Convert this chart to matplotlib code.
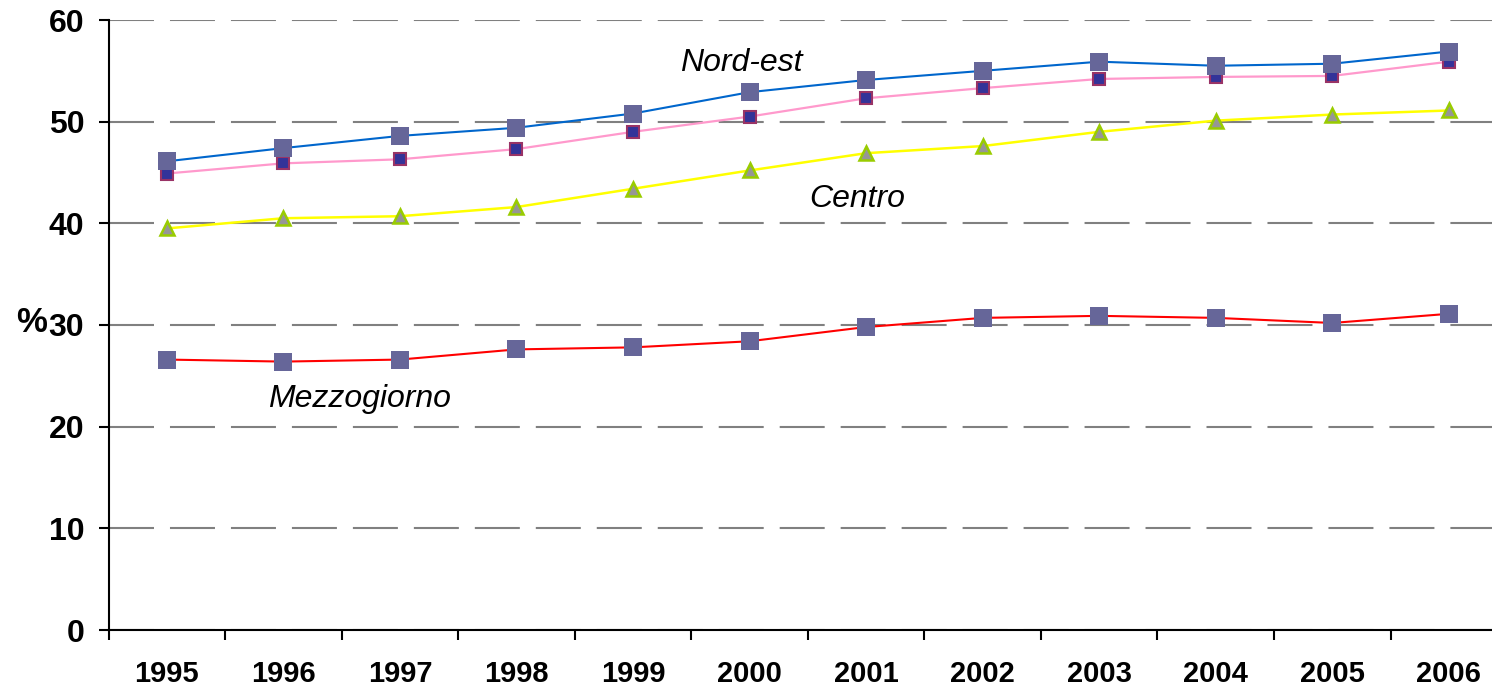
import numpy as np
import matplotlib.pyplot as plt
from matplotlib.ticker import FixedLocator

# dati (%)
anni = ['1995', '1996', '1997', '1998', '1999', '2000',
        '2001', '2002', '2003', '2004', '2005', '2006']
nord_est = [46.1, 47.4, 48.6, 49.4, 50.8, 52.9, 54.1, 55.0, 55.9, 55.5, 55.7, 56.9]
nord_ovest = [44.9, 45.9, 46.3, 47.3, 49.0, 50.5, 52.3, 53.3, 54.2, 54.4, 54.5, 55.9]
centro = [39.5, 40.5, 40.7, 41.6, 43.4, 45.2, 46.9, 47.6, 49.0, 50.1, 50.7, 51.1]
mezzogiorno = [26.6, 26.4, 26.6, 27.6, 27.8, 28.4, 29.8, 30.7, 30.9, 30.7, 30.2, 31.1]
yticks = [0, 10, 20, 30, 40, 50, 60]

plt.rcParams['font.family'] = ['Liberation Sans', 'DejaVu Sans']
plt.rcParams['lines.scale_dashes'] = False

fig = plt.figure(figsize=(14.92, 6.92), dpi=100, facecolor='white')
ax = fig.add_axes([108.5/1492, 62/692, 1398.6/1492, 610/692])

x = np.arange(len(anni))

# serie (ordine di disegno come nell'originale)
ax.plot(x, nord_ovest, color='#FF99CC', lw=1.6, marker='s', ms=8.4,
        mfc='#333399', mec='#993366', mew=1.5, zorder=3)
ax.plot(x, centro, color='#FFFF00', lw=1.8, marker='^', ms=10,
        mfc='#969696', mec='#99CC00', mew=1.8, zorder=3)
ax.plot(x, mezzogiorno, color='#FF0000', lw=1.5, marker='s', ms=12.7,
        mfc='#666699', mec='#666699', mew=0, zorder=4)
ax.plot(x, nord_est, color='#0066CC', lw=1.5, marker='s', ms=12.7,
        mfc='#666699', mec='#666699', mew=0, zorder=4)

ax.set_xlim(-0.5, len(anni) - 0.5)
ax.set_ylim(0, 60)

# griglia tratteggiata
ax.set_axisbelow(True)
ax.yaxis.grid(True, color='#808080', lw=1.5, linestyle=(0, (32.4, 11.5)))
ax.xaxis.grid(False)

for s in ['top', 'right']:
    ax.spines[s].set_visible(False)
for s in ['left', 'bottom']:
    ax.spines[s].set_linewidth(1.5)
    ax.spines[s].set_color('black')

ax.set_yticks(yticks)
ax.set_yticklabels([str(v) for v in yticks], fontsize=23, fontweight='bold')
ax.tick_params(axis='y', direction='out', length=7.5, width=1.5, pad=10)

ax.set_xticks(x)
ax.set_xticklabels(anni, fontsize=21, fontweight='bold')
ax.xaxis.set_minor_locator(FixedLocator(np.arange(-0.5, len(anni), 1.0)))
ax.tick_params(axis='x', which='major', length=0, pad=21.5)
ax.tick_params(axis='x', which='minor', direction='out', length=7.5, width=1.5)

# etichette delle serie
font_lab = {'family': ['Liberation Sans', 'DejaVu Sans'], 'style': 'italic',
            'size': 23, 'color': 'black'}
ax.text(4.93, 55.0, 'Nord-est', ha='center', va='baseline', fontdict=font_lab)
ax.text(5.92, 41.6, 'Centro', ha='center', va='baseline', fontdict=font_lab)
ax.text(1.65, 21.9, 'Mezzogiorno', ha='center', va='baseline', fontdict=font_lab)

fig.text(32/1492, (692-332)/692, '%', ha='center', va='baseline',
         fontsize=25, fontweight='bold')

plt.savefig('out.png', dpi=100, facecolor=fig.get_facecolor())
